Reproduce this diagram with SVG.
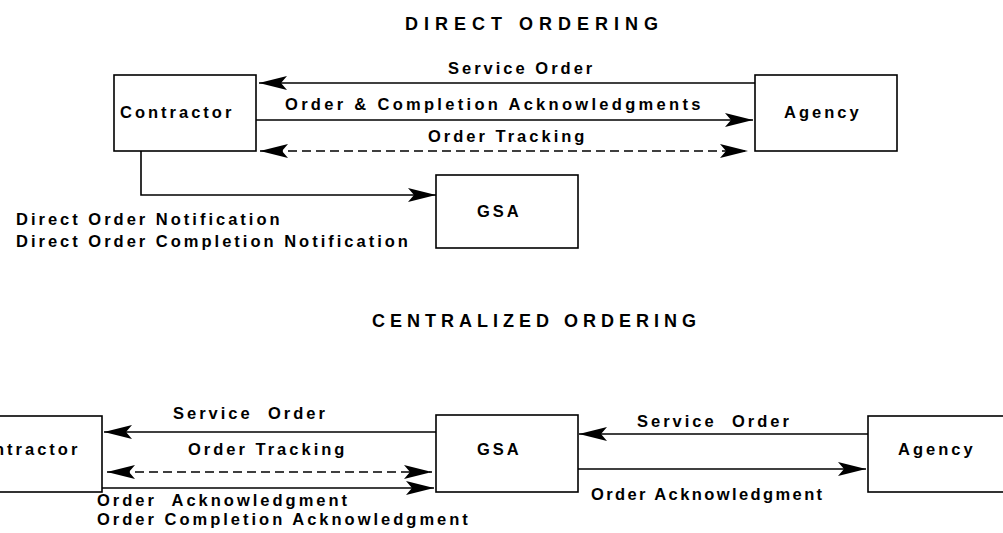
<svg xmlns="http://www.w3.org/2000/svg" width="1003" height="533" viewBox="0 0 1003 533">
<style>
text{font-family:"Liberation Sans",Arial,sans-serif;font-weight:bold;fill:#000;}
.t{font-size:16.5px;letter-spacing:3px;}
.h{font-size:18px;letter-spacing:5.5px;}
.box{fill:#fff;stroke:#000;stroke-width:1.6;}
.ln{fill:none;stroke:#000;stroke-width:1.6;}
.d{stroke-dasharray:9 5;}
</style>
<defs>
<marker id="ah" markerUnits="userSpaceOnUse" markerWidth="30" markerHeight="16" refX="28" refY="7" orient="auto-start-reverse" viewBox="0 0 30 14">
<path d="M28,7 L0,0 L6,7 L0,14 Z" fill="#000"/>
</marker>
</defs>
<rect width="1003" height="533" fill="#fff"/>
<text class="h" x="405" y="30" style="letter-spacing:6px">DIRECT ORDERING</text>
<text class="h" x="372" y="327" style="letter-spacing:5px">CENTRALIZED ORDERING</text>
<g id="connectors">
<line class="ln" x1="755" y1="83" x2="259" y2="83" marker-end="url(#ah)"/>
<line class="ln" x1="256" y1="120" x2="753" y2="120" marker-end="url(#ah)"/>
<line class="ln d" x1="260" y1="151" x2="748" y2="151" marker-start="url(#ah)" marker-end="url(#ah)"/>
<path class="ln" d="M141,151 V195 H436" marker-end="url(#ah)"/>
<line class="ln" x1="436" y1="432" x2="104" y2="432" marker-end="url(#ah)"/>
<line class="ln d" x1="107" y1="472" x2="432" y2="472" marker-start="url(#ah)" marker-end="url(#ah)"/>
<line class="ln" x1="102" y1="488" x2="434" y2="488" marker-end="url(#ah)"/>
<line class="ln" x1="868" y1="434" x2="579" y2="434" marker-end="url(#ah)"/>
<line class="ln" x1="578" y1="469" x2="866" y2="469" marker-end="url(#ah)"/>
<text class="t" x="448" y="74">Service Order</text>
<text class="t" x="285" y="110" style="letter-spacing:3.3px">Order &amp; Completion Acknowledgments</text>
<text class="t" x="428" y="142">Order Tracking</text>
<text class="t" x="16" y="225">Direct Order Notification</text>
<text class="t" x="16" y="247">Direct Order Completion Notification</text>
<text class="t" x="173" y="419" xml:space="preserve">Service  Order</text>
<text class="t" x="188" y="455">Order Tracking</text>
<text class="t" x="97" y="506" xml:space="preserve">Order  Acknowledgment</text>
<text class="t" x="97" y="525">Order Completion Acknowledgment</text>
<text class="t" x="637" y="427" xml:space="preserve">Service  Order</text>
<text class="t" x="591" y="500" style="letter-spacing:2.4px">Order Acknowledgment</text>
</g>
<g id="top-contractor"><rect class="box" x="114" y="75" width="142" height="76"/><text class="t" x="120" y="118">Contractor</text></g>
<g id="top-agency"><rect class="box" x="755" y="75" width="142" height="76"/><text class="t" x="784" y="118">Agency</text></g>
<g id="top-gsa"><rect class="box" x="436" y="175" width="142" height="73"/><text class="t" x="477" y="217">GSA</text></g>
<g id="bottom-contractor"><rect class="box" x="-40" y="416" width="142" height="76"/><text class="t" x="-34" y="455">Contractor</text></g>
<g id="bottom-gsa"><rect class="box" x="436" y="415" width="142" height="77"/><text class="t" x="477" y="455">GSA</text></g>
<g id="bottom-agency"><rect class="box" x="868" y="416" width="142" height="76"/><text class="t" x="898" y="455">Agency</text></g>
</svg>
